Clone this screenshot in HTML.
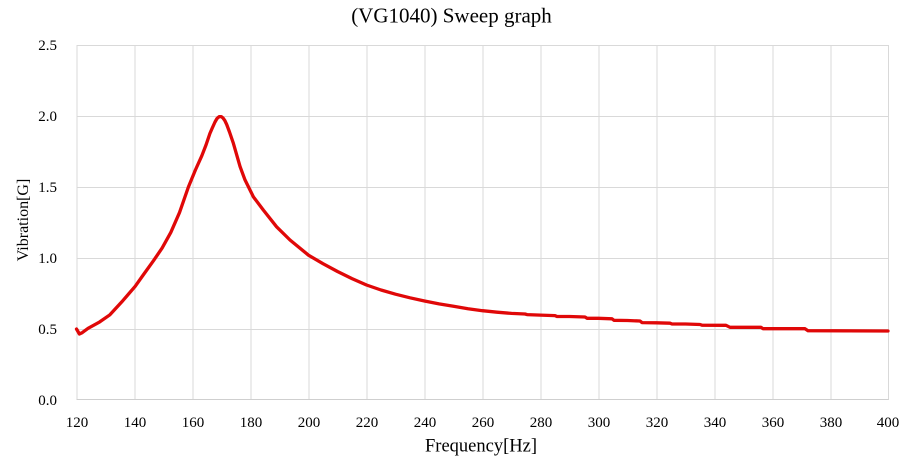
<!DOCTYPE html>
<html>
<head>
<meta charset="utf-8">
<style>
  html, body { margin: 0; padding: 0; background: #ffffff; }
  svg { display: block; }
  text { font-family: "Liberation Serif", "Times New Roman", serif; fill: #000; }
</style>
</head>
<body>
<svg width="912" height="466" viewBox="0 0 912 466" xmlns="http://www.w3.org/2000/svg">
  <rect x="0" y="0" width="912" height="466" fill="#ffffff"/>
  <!-- horizontal gridlines -->
  <g stroke="#d9d9d9" stroke-width="1">
    <line x1="76.5" y1="45.5" x2="888.5" y2="45.5"/>
    <line x1="76.5" y1="116.5" x2="888.5" y2="116.5"/>
    <line x1="76.5" y1="187.5" x2="888.5" y2="187.5"/>
    <line x1="76.5" y1="258.5" x2="888.5" y2="258.5"/>
    <line x1="76.5" y1="329.5" x2="888.5" y2="329.5"/>
  </g>
  <!-- vertical gridlines -->
  <g stroke="#d9d9d9" stroke-width="1">
    <line x1="77" y1="45" x2="77" y2="400"/>
    <line x1="135" y1="45" x2="135" y2="400"/>
    <line x1="193" y1="45" x2="193" y2="400"/>
    <line x1="251" y1="45" x2="251" y2="400"/>
    <line x1="309" y1="45" x2="309" y2="400"/>
    <line x1="367" y1="45" x2="367" y2="400"/>
    <line x1="425" y1="45" x2="425" y2="400"/>
    <line x1="483" y1="45" x2="483" y2="400"/>
    <line x1="541" y1="45" x2="541" y2="400"/>
    <line x1="599" y1="45" x2="599" y2="400"/>
    <line x1="657" y1="45" x2="657" y2="400"/>
    <line x1="715" y1="45" x2="715" y2="400"/>
    <line x1="773" y1="45" x2="773" y2="400"/>
    <line x1="831" y1="45" x2="831" y2="400"/>
    <line x1="888.5" y1="45" x2="888.5" y2="400"/>
  </g>
  <!-- x axis -->
  <line x1="76.5" y1="399.5" x2="888.5" y2="399.5" stroke="#cfcfcf" stroke-width="1"/>

  <!-- title -->
  <text x="451.5" y="22.5" font-size="21" text-anchor="middle">(VG1040) Sweep graph</text>

  <!-- y tick labels -->
  <g font-size="15" text-anchor="end">
    <text x="57" y="50">2.5</text>
    <text x="57" y="121">2.0</text>
    <text x="57" y="192">1.5</text>
    <text x="57" y="263">1.0</text>
    <text x="57" y="334">0.5</text>
    <text x="57" y="405">0.0</text>
  </g>
  <!-- x tick labels -->
  <g font-size="15" text-anchor="middle">
    <text x="77" y="427">120</text>
    <text x="135" y="427">140</text>
    <text x="193" y="427">160</text>
    <text x="251" y="427">180</text>
    <text x="309" y="427">200</text>
    <text x="367" y="427">220</text>
    <text x="425" y="427">240</text>
    <text x="483" y="427">260</text>
    <text x="541" y="427">280</text>
    <text x="599" y="427">300</text>
    <text x="657" y="427">320</text>
    <text x="715" y="427">340</text>
    <text x="773" y="427">360</text>
    <text x="831" y="427">380</text>
    <text x="888" y="427">400</text>
  </g>
  <!-- axis titles -->
  <text x="481" y="451.5" font-size="18.5" text-anchor="middle">Frequency[Hz]</text>
  <text transform="translate(28,220) rotate(-90)" font-size="16" text-anchor="middle">Vibration[G]</text>

  <!-- series -->
  <polyline fill="none" stroke="#e00808" stroke-width="3.3" stroke-linejoin="round" stroke-linecap="round"
    points="76.5,329 79.4,334 82.3,332.6 88.1,328.3 99.7,321.9 109.9,314.8 122.9,300.6 135.1,286.4 143.2,275 153.4,260.8 162.1,248.1 170.8,232.4 179.5,212.6 188.4,187 195.4,170 201.8,155.8 206,145 209.9,133.5 212.5,127.5 215,122 217,118.5 219.2,116.6 221.2,116.6 223,118 224.8,120.5 226.7,124.5 229.5,132 233.4,143.4 240.1,166.7 245,179.9 253.4,196.9 263.3,210 276.6,226.8 290,240 308.5,255.2 323,263.7 337.5,271.5 352,278.6 366.5,285 381,290 395.5,294.2 410,297.8 424.5,301 439,303.9 453.5,306.3 468,308.7 482.5,310.7 497,312.2 511.5,313.4 525,314 527,314.6 540.5,315.1 555,315.6 557,316.5 569.5,316.5 585,317 587,318.3 598.5,318.3 612,318.8 614,320.3 627.5,320.5 640,321 642,322.6 656.5,322.8 670,323.2 672,324 685.5,324 700,324.5 702,325.2 726,325.3 730,327.3 761,327.3 763,328.7 805,328.7 808,330.7 888,331"/>
</svg>
</body>
</html>
